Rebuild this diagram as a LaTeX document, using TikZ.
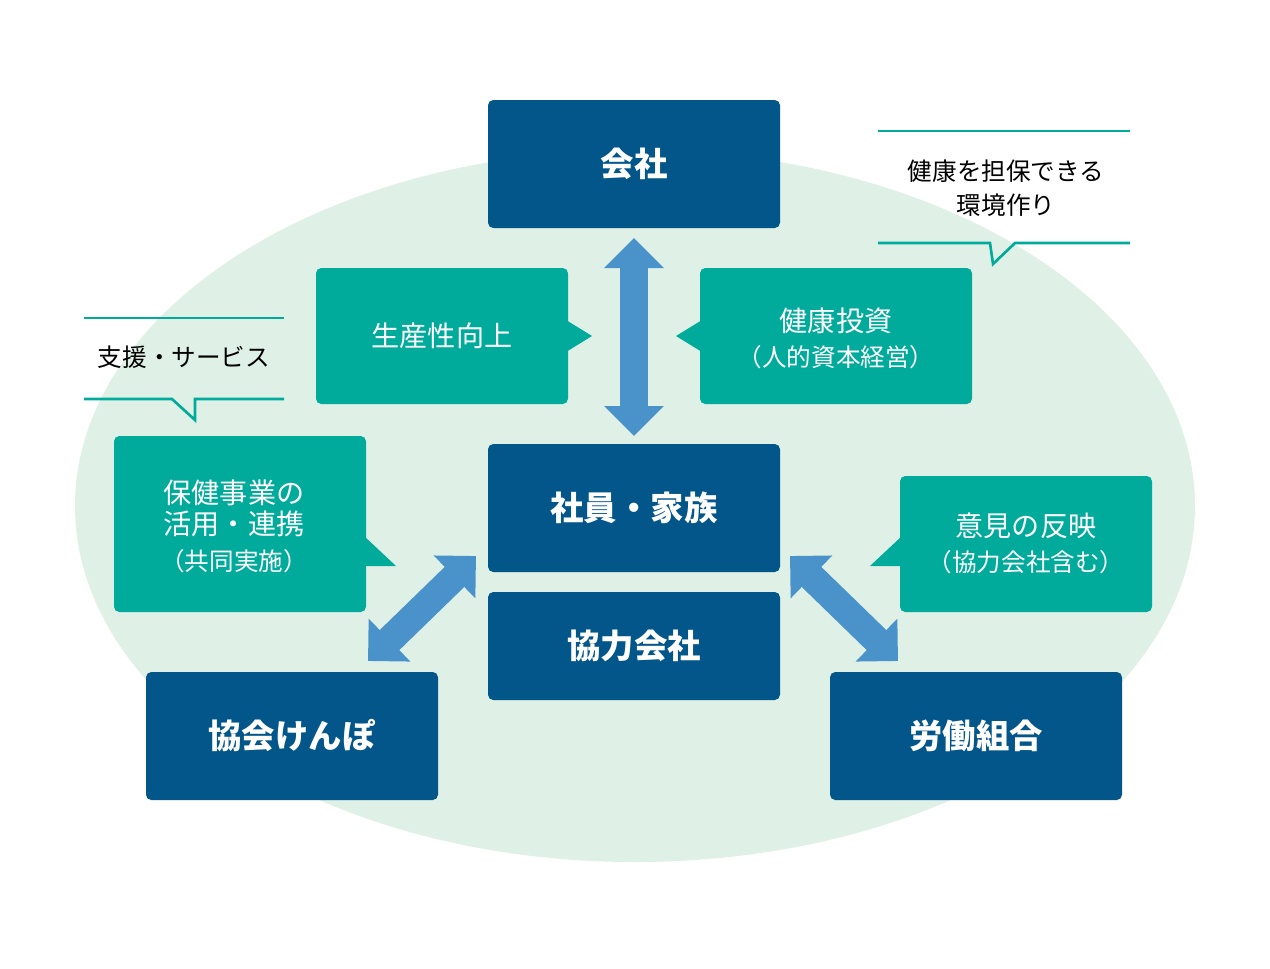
\documentclass[tikz,border=0pt]{standalone}
\usepackage{fontspec}
\setmainfont{Noto Sans CJK JP}
\usetikzlibrary{arrows.meta}
\definecolor{navy}{HTML}{03568A}
\definecolor{teal2}{HTML}{00AB9B}
\definecolor{ovalbg}{HTML}{DFF0E6}
\definecolor{arrowblue}{HTML}{4A92CA}
\tikzset{main box/.style={fill=navy,rounded corners=3pt,text=white,font=\fontsize{19}{22}\selectfont\bfseries},
  sub box/.style={fill=teal2,rounded corners=3pt,text=white,align=center,font=\fontsize{16}{22}\selectfont},
  two way/.style={draw=arrowblue,line width=0.56cm,{Triangle[width=1.16cm,length=0.6cm]}-{Triangle[width=1.16cm,length=0.6cm]}},
  note line/.style={draw=teal2,line width=1.5pt},
  note/.style={align=center,font=\fontsize{14}{19}\selectfont}}
\begin{document}
\begin{tikzpicture}[x=0.02cm,y=-0.02cm]
  \useasboundingbox (0,0) rectangle (1270,968);
  \fill[ovalbg] (635,506) ellipse[x radius=560,y radius=356];
  % main boxes
  \path[main box] (488,100) rectangle (780,228);
  \node[text=white,font=\fontsize{19}{22}\selectfont\bfseries] (kaisha) at (634,164) {会社};
  \path[main box] (488,444) rectangle (780,572);
  \node[text=white,font=\fontsize{19}{22}\selectfont\bfseries] (shain) at (634,508) {社員・家族};
  \path[main box] (488,592) rectangle (780,700);
  \node[text=white,font=\fontsize{19}{22}\selectfont\bfseries] (kyoryoku) at (634,646) {協力会社};
  \path[main box] (146,672) rectangle (438,800);
  \node[text=white,font=\fontsize{19}{22}\selectfont\bfseries] (kenpo) at (292,736) {協会けんぽ};
  \path[main box] (830,672) rectangle (1122,800);
  \node[text=white,font=\fontsize{19}{22}\selectfont\bfseries] (kumiai) at (976,736) {労働組合};
  % speech boxes
  \path[sub box] (316,268) rectangle (568,404);
  \fill[teal2] (566,320) -- (592,336) -- (566,352) -- cycle;
  \node[sub box,fill=none] (seisan) at (442,336) {生産性向上};
  \path[sub box] (700,268) rectangle (972,404);
  \fill[teal2] (702,320) -- (676,336) -- (702,352) -- cycle;
  \node[sub box,fill=none] (toshi) at (836,338) {健康投資\\[-2pt]{\fontsize{14}{18}\selectfont（人的資本経営）}};
  \path[sub box] (114,436) rectangle (366,612);
  \fill[teal2] (364,536) -- (396,566) -- (364,566) -- cycle;
  \node[sub box,fill=none] (hoken) at (234,526) {保健事業の\\[-4pt]活用・連携\\[-2pt]{\fontsize{14}{18}\selectfont（共同実施）}};
  \path[sub box] (900,476) rectangle (1152,612);
  \fill[teal2] (902,536) -- (870,566) -- (902,566) -- cycle;
  \node[sub box,fill=none] (iken) at (1026,543) {意見の反映\\[-2pt]{\fontsize{14}{18}\selectfont（協力会社含む）}};
  % callouts
  \draw[note line] (878,131) -- (1130,131);
  \draw[note line] (878,243) -- (990,243) -- (993,264) -- (1015,243) -- (1130,243);
  \node[note] (kankyo) at (1006,188) {健康を担保できる\\環境作り};
  \draw[note line] (84,318) -- (284,318);
  \draw[note line] (84,399) -- (172,399) -- (195,420) -- (195,399) -- (284,399);
  \node[note] (shien) at (184,357) {支援・サービス};
  % arrows
  \coordinate (a1) at (634,238); \coordinate (a2) at (634,436);
  \coordinate (b1) at (476,556); \coordinate (b2) at (368,661);
  \coordinate (c1) at (790,556); \coordinate (c2) at (898,661);
  \draw[two way] (a1) -- (a2);
  \draw[two way] (b1) -- (b2);
  \draw[two way] (c1) -- (c2);
\end{tikzpicture}
\end{document}
